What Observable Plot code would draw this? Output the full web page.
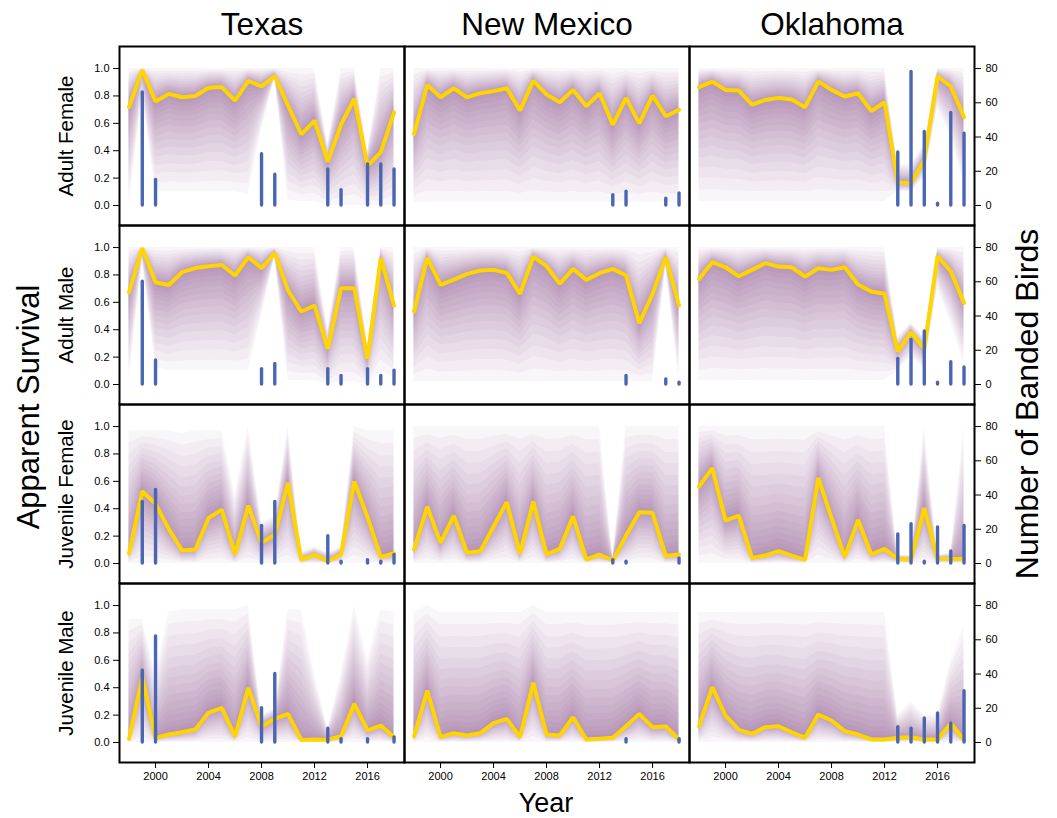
<!DOCTYPE html>
<html><head><meta charset="utf-8">
<script src="https://cdn.jsdelivr.net/npm/d3@7"></script>
<script src="https://cdn.jsdelivr.net/npm/@observablehq/plot@0.6"></script>
<style>body{margin:0;background:#fff} #chart svg{display:block}</style>
</head><body><div id="chart"></div>
<script>
const years = [1998,1999,2000,2001,2002,2003,2004,2005,2006,2007,2008,2009,2010,2011,2012,2013,2014,2015,2016,2017,2018];
const states = ["Texas","New Mexico","Oklahoma"];
const groups = ["Adult Female","Adult Male","Juvenile Female","Juvenile Male"];
const leftTicks = [0,0.2,0.4,0.6,0.8,1.0];
const rightTicks = [0,20,40,60,80];
const yearTicks = [2000,2004,2008,2012,2016];

// ---- Texas ----
const txAF_mean = [0.72,0.99,0.76,0.815,0.79,0.80,0.86,0.865,0.765,0.91,0.87,0.945,0.73,0.52,0.62,0.32,0.59,0.78,0.29,0.39,0.68];
const txAF_lo   = [0.0,0.8,0.1,0.1,0.1,0.1,0.1,0.1,0.1,0.08,0.55,0.93,0.04,0.03,0.03,0.0,0.0,0.0,0.0,0.0,0.0];
const txAF_hi   = [1,1,1,1,1,1,1,1,1,1,1,1,1,1,1,0.45,1,1,0.4,1,1];
const txAF_birdYears = [1999,2000,2008,2009,2013,2014,2016,2017,2018];
const txAF_birds     = [66,15,30,18,21,9,24,24,21];

const txAM_mean = [0.674,0.995,0.747,0.727,0.82,0.85,0.864,0.873,0.796,0.93,0.85,0.96,0.686,0.533,0.577,0.26,0.703,0.703,0.187,0.922,0.577];
const txAM_lo   = [0.03,0.9,0.12,0.1,0.1,0.1,0.1,0.1,0.1,0.1,0.5,0.93,0.03,0.03,0.03,0.0,0.02,0.02,0.0,0.1,0.05];
const txAM_hi   = [1,1,1,1,1,1,1,1,1,1,1,1,1,1,1,0.4,1,1,0.3,1,1];
const txAM_birdYears = [1999,2000,2008,2009,2013,2014,2016,2017,2018];
const txAM_birds     = [60,14,9,12,9,5,9,5,8];

const txJF_mean = [0.075,0.528,0.436,0.253,0.095,0.102,0.333,0.392,0.066,0.423,0.151,0.212,0.589,0.027,0.063,0.017,0.066,0.60,0.338,0.046,0.075];
const txJF_lo   = [0,0,0,0,0,0,0,0,0,0,0,0,0,0,0,0,0,0,0,0,0];
const txJF_hi   = [0.97,0.97,0.97,0.97,0.95,0.97,0.97,0.97,0.5,1.0,0.3,0.35,1.0,0.08,0.12,0.08,0.12,1.0,0.97,0.97,0.97];
const txJF_birdYears = [1999,2000,2008,2009,2013,2014,2016,2017,2018];
const txJF_birds     = [36,43,22,36,16,1,2,1,5];

const txJM_mean = [0.027,0.477,0.034,0.058,0.075,0.095,0.217,0.253,0.044,0.399,0.117,0.173,0.209,0.019,0.022,0.019,0.046,0.282,0.088,0.124,0.039];
const txJM_lo   = [0,0,0,0,0,0,0,0,0,0,0,0,0,0,0,0,0,0,0,0,0];
const txJM_hi   = [0.9,0.9,0.5,0.95,0.97,0.97,0.97,0.97,0.97,1.0,0.2,0.25,0.97,0.97,0.5,0.1,0.5,1.0,0.6,0.97,0.95];
const txJM_birdYears = [1999,2000,2008,2009,2013,2014,2016,2018];
const txJM_birds     = [42,62,20,40,8,2,2,3];

// ---- New Mexico ----
const nmAF_mean = [0.523,0.88,0.79,0.856,0.79,0.82,0.835,0.856,0.693,0.912,0.81,0.754,0.844,0.725,0.82,0.589,0.786,0.60,0.803,0.652,0.698];
const nmAF_lo   = [0.02,0.02,0.02,0.02,0.02,0.02,0.02,0.02,0.02,0.02,0.02,0.02,0.02,0.02,0.02,0.02,0.02,0.02,0.02,0.02,0.02];
const nmAF_hi   = [1,1,1,1,1,1,1,1,1,1,1,1,1,1,1,1,1,1,1,1,1];
const nmAF_birdYears = [2013,2014,2017,2018];
const nmAF_birds     = [6,8,4,7];

const nmAM_mean = [0.533,0.925,0.727,0.766,0.808,0.832,0.837,0.815,0.662,0.934,0.864,0.735,0.844,0.764,0.813,0.844,0.796,0.448,0.662,0.929,0.577];
const nmAM_lo   = [0.02,0.02,0.02,0.02,0.02,0.02,0.02,0.02,0.02,0.02,0.02,0.02,0.02,0.02,0.02,0.02,0.02,0.02,0.02,0.85,0.02];
const nmAM_hi   = [1,1,1,1,1,1,1,1,1,1,1,1,1,1,1,1,1,1,1,1,1];
const nmAM_birdYears = [2014,2017,2018];
const nmAM_birds     = [5,3,1];

const nmJF_mean = [0.102,0.416,0.151,0.35,0.078,0.09,0.27,0.448,0.071,0.453,0.066,0.107,0.345,0.029,0.066,0.022,0.204,0.375,0.37,0.054,0.066];
const nmJF_lo   = [0,0,0,0,0,0,0,0,0,0,0,0,0,0,0,0,0,0,0,0,0];
const nmJF_hi   = [1,1,1,1,1,1,1,1,1,1,1,1,1,1,1,0.05,1,1,1,1,1];
const nmJF_birdYears = [2013,2014,2018];
const nmJF_birds     = [2,1,3];

const nmJM_mean = [0.046,0.38,0.039,0.068,0.051,0.068,0.141,0.173,0.039,0.436,0.058,0.051,0.185,0.022,0.027,0.034,0.119,0.209,0.112,0.117,0.022];
const nmJM_lo   = [0,0,0,0,0,0,0,0,0,0,0,0,0,0,0,0,0,0,0,0,0];
const nmJM_hi   = [0.95,1,0.95,0.95,0.95,0.95,0.95,0.95,0.95,1,0.95,0.95,0.95,0.95,0.95,0.95,0.95,0.95,0.95,0.95,0.95];
const nmJM_birdYears = [2014,2018];
const nmJM_birds     = [2,2];

// ---- Oklahoma ----
const okAF_mean = [0.864,0.905,0.844,0.839,0.737,0.771,0.786,0.774,0.718,0.905,0.844,0.796,0.82,0.689,0.754,0.17,0.16,0.333,0.944,0.869,0.645];
const okAF_lo   = [0.03,0.03,0.03,0.03,0.03,0.03,0.03,0.03,0.03,0.03,0.03,0.03,0.03,0.03,0.03,0.1,0.1,0.2,0.7,0.5,0.15];
const okAF_hi   = [1,1,1,1,1,1,1,1,1,1,1,1,1,1,1,0.3,0.3,0.45,1,1,1];
const okAF_birdYears = [2013,2014,2015,2016,2017,2018];
const okAF_birds     = [31,78,43,1,54,42];

const okAM_mean = [0.771,0.893,0.856,0.79,0.837,0.886,0.861,0.856,0.788,0.849,0.837,0.856,0.73,0.679,0.662,0.241,0.382,0.26,0.937,0.827,0.596];
const okAM_lo   = [0.03,0.03,0.03,0.03,0.03,0.03,0.03,0.03,0.03,0.03,0.03,0.03,0.03,0.03,0.03,0.1,0.2,0.12,0.7,0.45,0.15];
const okAM_hi   = [1,1,1,1,1,1,1,1,1,1,1,1,1,1,1,0.35,0.45,0.35,1,1,1];
const okAM_birdYears = [2013,2014,2015,2016,2017,2018];
const okAM_birds     = [15,26,31,1,13,10];

const okJF_mean = [0.562,0.696,0.314,0.35,0.041,0.058,0.09,0.058,0.027,0.625,0.333,0.046,0.319,0.066,0.107,0.034,0.027,0.406,0.034,0.032,0.032];
const okJF_lo   = [0,0,0,0,0,0,0,0,0,0,0,0,0,0,0,0,0,0,0,0,0];
const okJF_hi   = [1,1,1,1,1,1,1,1,1,1,1,1,1,1,1,0.06,0.06,1,0.06,0.08,1];
const okJF_birdYears = [2013,2014,2015,2016,2017,2018];
const okJF_birds     = [17,23,1,21,7,22];

const okJM_mean = [0.119,0.404,0.197,0.092,0.063,0.112,0.119,0.075,0.034,0.204,0.161,0.083,0.058,0.022,0.022,0.034,0.039,0.022,0.022,0.141,0.019];
const okJM_lo   = [0,0,0,0,0,0,0,0,0,0,0,0,0,0,0,0,0,0,0,0,0];
const okJM_hi   = [0.95,0.95,0.95,0.95,0.95,0.95,0.95,0.95,0.95,0.95,0.95,0.95,0.95,0.95,0.95,0.2,0.3,0.2,0.2,0.6,0.85];
const okJM_birdYears = [2013,2014,2015,2016,2017,2018];
const okJM_birds     = [9,8,14,17,11,30];

const panels = [
  ["Texas","Adult Female",txAF_mean,txAF_lo,txAF_hi,txAF_birdYears,txAF_birds],
  ["Texas","Adult Male",txAM_mean,txAM_lo,txAM_hi,txAM_birdYears,txAM_birds],
  ["Texas","Juvenile Female",txJF_mean,txJF_lo,txJF_hi,txJF_birdYears,txJF_birds],
  ["Texas","Juvenile Male",txJM_mean,txJM_lo,txJM_hi,txJM_birdYears,txJM_birds],
  ["New Mexico","Adult Female",nmAF_mean,nmAF_lo,nmAF_hi,nmAF_birdYears,nmAF_birds],
  ["New Mexico","Adult Male",nmAM_mean,nmAM_lo,nmAM_hi,nmAM_birdYears,nmAM_birds],
  ["New Mexico","Juvenile Female",nmJF_mean,nmJF_lo,nmJF_hi,nmJF_birdYears,nmJF_birds],
  ["New Mexico","Juvenile Male",nmJM_mean,nmJM_lo,nmJM_hi,nmJM_birdYears,nmJM_birds],
  ["Oklahoma","Adult Female",okAF_mean,okAF_lo,okAF_hi,okAF_birdYears,okAF_birds],
  ["Oklahoma","Adult Male",okAM_mean,okAM_lo,okAM_hi,okAM_birdYears,okAM_birds],
  ["Oklahoma","Juvenile Female",okJF_mean,okJF_lo,okJF_hi,okJF_birdYears,okJF_birds],
  ["Oklahoma","Juvenile Male",okJM_mean,okJM_lo,okJM_hi,okJM_birdYears,okJM_birds]
];

const survival = [];
const banded = [];
for (const [state, group, mean, lo, hi, by, bc] of panels) {
  years.forEach((year, i) => survival.push({state, group, year, mean: mean[i], lo: lo[i], hi: hi[i]}));
  by.forEach((year, i) => banded.push({state, group, year, count: bc[i]}));
}

const COUNT_MAX = 80; // right axis 80 aligns with survival 1.0
// nested translucent layers (outer bound -> near the mean) render the soft posterior fan
const bandLevels = [1, 0.9, 0.8, 0.71, 0.62, 0.54, 0.46, 0.39, 0.32, 0.26, 0.2, 0.15, 0.1, 0.06, 0.03];
const purple = "#7a2a7c";

const bands = bandLevels.map(f => Plot.areaY(survival, {
  x: "year",
  y1: d => d.mean - f * (d.mean - d.lo),
  y2: d => d.mean + f * (d.hi - d.mean),
  fx: "state", fy: "group",
  fill: purple, fillOpacity: 0.042, curve: "linear"
}));

const FONT = "'Liberation Sans', Arial, sans-serif";

const chart = Plot.plot({
  width: 1057, height: 818,
  marginLeft: 119, marginRight: 83, marginTop: 46, marginBottom: 56,
  style: {fontFamily: FONT, background: "#fff", color: "#000"},
  fx: {domain: states, padding: 0, label: null},
  fy: {domain: groups, padding: 0, label: null},
  x: {domain: [1997.28, 2018.79]},
  y: {domain: [-0.146, 1.161]},
  marks: [
    ...bands,
    Plot.line(survival, {x: "year", y: "mean", fx: "state", fy: "group", stroke: "#FFD500", strokeWidth: 4, strokeLinejoin: "miter"}),
    Plot.ruleX(banded, {x: "year", y1: 0, y2: d => d.count / COUNT_MAX, fx: "state", fy: "group", stroke: "#4a66b3", strokeWidth: 3.4, strokeLinecap: "round"}),
    Plot.axisY({anchor: "left", ticks: leftTicks, tickFormat: d3.format(".1f"), tickSize: 6, tickPadding: 4, fontSize: 11, label: null}),
    Plot.axisY({anchor: "right", ticks: rightTicks.map(v => v / COUNT_MAX), tickFormat: d => String(Math.round(d * COUNT_MAX)), tickSize: 6, tickPadding: 5, fontSize: 11, label: null}),
    Plot.axisX({anchor: "bottom", ticks: yearTicks, tickFormat: d => String(d), tickSize: 6, tickPadding: 4, fontSize: 11, label: null}),
    Plot.axisFx({anchor: "top", label: null, tickSize: 0, tickPadding: 12, fontSize: 31.5}),
    Plot.axisFy({anchor: "left", label: null, tickSize: 0, tickPadding: 53, fontSize: 20.5, rotate: -90, textAnchor: "middle"}),
    Plot.frame({stroke: "#000", strokeWidth: 2})
  ]
});

document.getElementById("chart").appendChild(chart);

const svg = d3.select(chart);
svg.append("text").attr("transform", "translate(31,407) rotate(-90)")
  .attr("text-anchor", "middle").attr("dominant-baseline", "middle")
  .attr("font-size", 31).attr("font-family", FONT).text("Apparent Survival");
svg.append("text").attr("transform", "translate(1030,404) rotate(-90)")
  .attr("text-anchor", "middle").attr("dominant-baseline", "middle")
  .attr("font-size", 32).attr("font-family", FONT).text("Number of Banded Birds");
svg.append("text").attr("x", 546).attr("y", 805)
  .attr("text-anchor", "middle").attr("dominant-baseline", "middle")
  .attr("font-size", 27).attr("font-family", FONT).text("Year");
</script>
</body></html>
